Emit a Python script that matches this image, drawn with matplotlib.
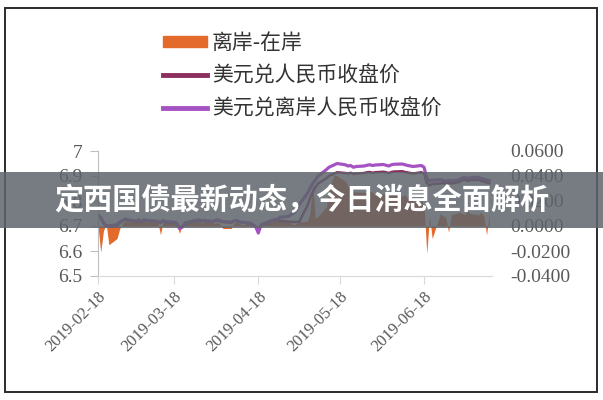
import matplotlib.pyplot as plt
import pandas as pd
from matplotlib.patches import Patch, Rectangle
from matplotlib.lines import Line2D

# trading days shown on the chart
dates = pd.bdate_range('2019-02-18', '2019-07-12')

# USD/CNY close (left axis), one row per week
usdcny = [
    6.740, 6.730, 6.715, 6.702, 6.700,
    6.702, 6.712, 6.720, 6.725, 6.722,
    6.718, 6.720, 6.716, 6.722, 6.720,
    6.718, 6.716, 6.712, 6.720, 6.716,
    6.712, 6.710, 6.692, 6.698, 6.710,
    6.718, 6.720, 6.722, 6.718, 6.720,
    6.716, 6.720, 6.722, 6.718, 6.716,
    6.714, 6.718, 6.720, 6.716, 6.714,
    6.710, 6.704, 6.698, 6.678, 6.702,
    6.715, 6.720, 6.722, 6.724, 6.720,
    6.718, 6.716, 6.716, 6.716, 6.716,
    6.780, 6.810, 6.835, 6.855, 6.870,
    6.890, 6.900, 6.905, 6.910, 6.915,
    6.912, 6.910, 6.913, 6.908, 6.910,
    6.912, 6.915, 6.916, 6.913, 6.915,
    6.917, 6.915, 6.912, 6.916, 6.918,
    6.919, 6.916, 6.914, 6.912, 6.910,
    6.915, 6.910, 6.872, 6.862, 6.868,
    6.870, 6.872, 6.868, 6.874, 6.870,
    6.876, 6.883, 6.886, 6.880, 6.884,
    6.885, 6.880, 6.878, 6.874, 6.872,
]

# USD/CNH close (left axis)
usdcnh = [
    6.745, 6.735, 6.712, 6.700, 6.700,
    6.705, 6.715, 6.722, 6.728, 6.725,
    6.720, 6.722, 6.718, 6.725, 6.722,
    6.720, 6.718, 6.715, 6.722, 6.718,
    6.715, 6.712, 6.690, 6.695, 6.712,
    6.720, 6.722, 6.725, 6.720, 6.722,
    6.718, 6.722, 6.725, 6.720, 6.718,
    6.715, 6.720, 6.722, 6.718, 6.715,
    6.712, 6.705, 6.698, 6.672, 6.705,
    6.718, 6.722, 6.725, 6.728, 6.735,
    6.738, 6.745, 6.752, 6.765, 6.785,
    6.830, 6.850, 6.870, 6.885, 6.900,
    6.925, 6.935, 6.940, 6.945, 6.950,
    6.945, 6.940, 6.942, 6.935, 6.938,
    6.940, 6.943, 6.945, 6.942, 6.944,
    6.946, 6.943, 6.940, 6.945, 6.947,
    6.948, 6.945, 6.942, 6.940, 6.938,
    6.942, 6.935, 6.890, 6.880, 6.883,
    6.885, 6.882, 6.878, 6.883, 6.880,
    6.885, 6.892, 6.895, 6.890, 6.893,
    6.895, 6.890, 6.888, 6.885, 6.882,
]

# offshore - onshore (right axis)
spread = [
    0.000, -0.021, -0.004, 0.002, -0.015,
    -0.010, -0.002, 0.002, 0.004, 0.003,
    0.006, 0.007, 0.004, 0.005, 0.003,
    0.004, 0.003, -0.007, 0.004, 0.003,
    0.003, 0.002, -0.006, 0.001, 0.003,
    0.004, 0.003, 0.004, 0.002, 0.003,
    0.003, 0.002, 0.003, 0.001, -0.002,
    -0.002, 0.002, 0.003, 0.002, 0.001,
    0.002, 0.001, 0.000, -0.004, 0.003,
    0.004, 0.003, 0.005, 0.004, 0.006,
    0.004, 0.002, 0.001, 0.002, 0.003,
    0.004, 0.010, 0.035, 0.006, 0.008,
    0.015, 0.028, 0.036, 0.041, 0.040,
    0.036, 0.032, 0.029, 0.028, 0.027,
    0.027, 0.025, 0.028, 0.027, 0.025,
    0.026, 0.024, 0.023, 0.026, 0.025,
    0.024, 0.025, 0.022, 0.021, 0.020,
    0.020, 0.016, -0.022, 0.008, -0.010,
    0.010, 0.008, 0.007, -0.005, 0.009,
    0.011, 0.010, 0.009, 0.012, 0.010,
    0.009, 0.011, 0.008, -0.007, 0.010,
]

tick_dates = pd.to_datetime(['2019-02-18', '2019-03-18', '2019-04-18',
                             '2019-05-18', '2019-06-18'])
left_ticks = [6.5, 6.6, 6.7, 6.8, 6.9, 7.0]
right_ticks = [-0.04, -0.02, 0.0, 0.02, 0.04, 0.06]
legend_labels = ['离岸-在岸', '美元兑人民币收盘价', '美元兑离岸人民币收盘价']
banner_title = '定西国债最新动态，今日消息全面解析'

cjk = ['Noto Sans CJK SC', 'DejaVu Sans']
serif = 'Liberation Serif'
orange = '#E36A2A'
cny_col = '#8C2F5F'
cnh_col = '#A552C2'
grey = '#595959'

fig = plt.figure(figsize=(6.03, 4.0), dpi=100)
ax = fig.add_axes([98 / 603, 1 - 276 / 400, (492 - 98) / 603, 125 / 400])
ax2 = ax.twinx()

ax2.fill_between(dates, 0, spread, color=orange, linewidth=0)
ax.plot(dates, usdcny, color=cny_col, lw=1.8)
ax.plot(dates, usdcnh, color=cnh_col, lw=2.3)

ax.set_zorder(ax2.get_zorder() + 1)
ax.patch.set_visible(False)

ax.set_xlim(dates[0], dates[-1] + pd.Timedelta(days=1))
ax.set_ylim(6.5, 7.0)
ax2.set_ylim(-0.04, 0.06)

ax.set_yticks(left_ticks)
ax.set_yticklabels(['%g' % v for v in left_ticks])
ax2.set_yticks(right_ticks)
ax2.set_yticklabels(['%.4f' % v for v in right_ticks])
ax.set_xticks(tick_dates)
ax.set_xticklabels([d.strftime('%Y-%m-%d') for d in tick_dates],
                   rotation=45, ha='right', rotation_mode='anchor')

for s in ['top', 'right']:
    ax.spines[s].set_visible(False)
for s in ax2.spines.values():
    s.set_visible(False)
ax.spines['left'].set_color('#BFBFBF')
ax.spines['bottom'].set_color('#D9D9D9')

ax.tick_params(axis='y', colors='#BFBFBF', length=6, pad=5, labelcolor=grey)
ax.tick_params(axis='x', colors='#D9D9D9', length=6, pad=3, labelcolor=grey)
ax2.tick_params(axis='y', length=0, pad=13, labelcolor=grey)
for lab in ax.get_yticklabels() + ax2.get_yticklabels():
    lab.set_fontfamily(serif)
    lab.set_fontsize(14)
for lab in ax.get_xticklabels():
    lab.set_fontfamily(serif)
    lab.set_fontsize(12)

handles = [Patch(color=orange),
           Line2D([], [], color=cny_col, lw=3.5),
           Line2D([], [], color=cnh_col, lw=3.5)]
fig.legend(handles, legend_labels, loc='upper left',
           bbox_to_anchor=(163 / 603, 1 - 32 / 400), frameon=False,
           prop={'family': cjk, 'size': 15}, labelcolor='#333333',
           handlelength=2.1, handleheight=0.4, handletextpad=0.24,
           labelspacing=0.52, borderpad=0, borderaxespad=0)

# outer frame
fig.add_artist(Rectangle((5 / 603, 8 / 400), 592 / 603, 384 / 400,
                         transform=fig.transFigure, fill=False,
                         edgecolor='#2B2B2B', lw=1.4, zorder=5))

# overlay banner
fig.add_artist(Rectangle((0, 1 - 228 / 400), 1, 56 / 400,
                         transform=fig.transFigure, facecolor='#5E656C',
                         edgecolor='none', alpha=0.85, zorder=10))
fig.text(0.5, 0.5, banner_title, color='white', fontsize=21,
         fontweight='bold', family=cjk, ha='center', va='center', zorder=11)

fig.savefig('out.png', dpi=100)
